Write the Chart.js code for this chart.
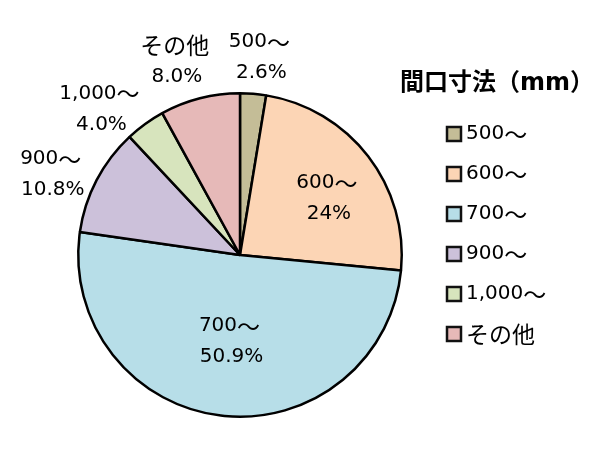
<!DOCTYPE html>
<html>
<head>
<meta charset="utf-8">
<script src="https://cdn.jsdelivr.net/npm/chart.js@4/dist/chart.umd.min.js"></script>
<style>
  html, body { margin: 0; padding: 0; background: #fff; }
  #wrap { width: 602px; height: 454px; position: relative; }
</style>
</head>
<body>
<div id="wrap"><canvas id="c"></canvas></div>
<script>
const categories = ['500～', '600～', '700～', '900～', '1,000～', 'その他'];
const shares = [2.6, 24, 50.9, 10.8, 4.0, 8.0];
const shareLabels = ['2.6%', '24%', '50.9%', '10.8%', '4.0%', '8.0%'];
const sliceColors = ['#C4BD97', '#FCD5B5', '#B7DEE8', '#CCC1DA', '#D7E4BD', '#E6B9B8'];
const legendTitle = '間口寸法（mm）';

const LATIN_FONT = '20px "DejaVu Sans", sans-serif';
const CJK_FONT = '23px "Noto Sans CJK JP", sans-serif';

function drawRuns(ctx, text, x, y, align) {
  const runs = text.match(/[\u3000-\u9fff\uff00-\uffef]+|[^\u3000-\u9fff\uff00-\uffef]+/g) || [];
  const parts = runs.map(r => {
    const cjk = /[\u3000-\u9fff\uff00-\uffef]/.test(r);
    ctx.font = cjk ? CJK_FONT : LATIN_FONT;
    return { r, font: ctx.font, w: ctx.measureText(r).width };
  });
  const total = parts.reduce((s, p) => s + p.w, 0);
  let sx = align === 'center' ? x - total / 2 : x;
  ctx.textAlign = 'left';
  ctx.textBaseline = 'middle';
  parts.forEach(p => {
    ctx.font = p.font;
    ctx.fillText(p.r, sx, y);
    sx += p.w;
  });
}

const labelPlugin = {
  id: 'pieLabels',
  afterDraw(chart, args, opts) {
    const ctx = chart.ctx;
    const meta = chart.getDatasetMeta(0);
    ctx.save();
    ctx.fillStyle = '#000';
    meta.data.forEach((arc, i) => {
      const p = arc.getProps(['x', 'y', 'startAngle', 'endAngle', 'outerRadius'], true);
      const mid = (p.startAngle + p.endAngle) / 2;
      const f = opts.inside[i] ? opts.insideFactor : opts.outsideFactor;
      const n = opts.nudge[i];
      const cx = p.x + Math.cos(mid) * p.outerRadius * f + n[0];
      const cy = p.y + Math.sin(mid) * p.outerRadius * f + n[1];
      drawRuns(ctx, chart.data.labels[i], cx, cy - opts.lineGap / 2, 'center');
      drawRuns(ctx, shareLabels[i], cx + 2, cy + opts.lineGap / 2, 'center');
    });
    ctx.restore();
  }
};

const legendPlugin = {
  id: 'customLegend',
  afterDraw(chart, args, opts) {
    const ctx = chart.ctx;
    const ds = chart.data.datasets[0];
    ctx.save();
    ctx.fillStyle = '#000';
    ctx.font = 'bold 24px "DejaVu Sans", "Noto Sans CJK JP", sans-serif';
    ctx.textAlign = 'center';
    ctx.textBaseline = 'middle';
    ctx.fillText(legendTitle, opts.titleX, opts.titleY);
    chart.data.labels.forEach((lab, i) => {
      const y = opts.firstY + i * opts.step;
      ctx.fillStyle = ds.backgroundColor[i];
      ctx.fillRect(opts.boxX, y - opts.box / 2, opts.box, opts.box);
      ctx.lineWidth = 2.5;
      ctx.strokeStyle = '#111';
      ctx.strokeRect(opts.boxX, y - opts.box / 2, opts.box, opts.box);
      ctx.fillStyle = '#000';
      drawRuns(ctx, lab, opts.textX, y, 'left');
    });
    ctx.restore();
  }
};

new Chart(document.getElementById('c'), {
  type: 'pie',
  data: {
    labels: categories,
    datasets: [{
      data: shares,
      backgroundColor: sliceColors,
      borderColor: '#000',
      borderWidth: 2.5
    }]
  },
  options: {
    responsive: true,
    maintainAspectRatio: false,
    animation: false,
    layout: { padding: { left: 77, top: 92, right: 199, bottom: 36 } },
    plugins: {
      legend: { display: false },
      tooltip: { enabled: false },
      pieLabels: {
        inside: [false, true, true, false, false, false],
        insideFactor: 0.6,
        outsideFactor: 1.25,
        lineGap: 31,
        nudge: [[3, 4], [10, 3], [1, -10], [-10, 13], [-22, 18], [-15, 2]]
      },
      customLegend: {
        titleX: 497, titleY: 84,
        boxX: 447, box: 14,
        textX: 466,
        firstY: 134, step: 40
      }
    }
  },
  plugins: [labelPlugin, legendPlugin]
});
</script>
</body>
</html>
